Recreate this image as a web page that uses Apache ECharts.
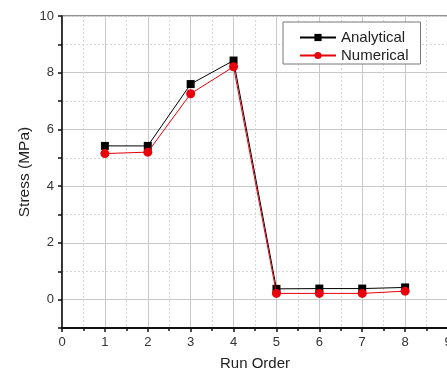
<!DOCTYPE html>
<html><head><meta charset="utf-8">
<script src="https://cdn.jsdelivr.net/npm/echarts@6/dist/echarts.min.js"></script>
<style>html,body{margin:0;padding:0;background:#fff}#c{width:447px;height:373px}</style>
</head><body><div id="c"></div>
<script>
const runOrder = [1, 2, 3, 4, 5, 6, 7, 8];
const analytical = [5.42, 5.42, 7.6, 8.43, 0.38, 0.39, 0.39, 0.43];
const numerical = [5.15, 5.2, 7.26, 8.21, 0.22, 0.22, 0.22, 0.3];
const xTicks = [0, 1, 2, 3, 4, 5, 6, 7, 8, 9];
const yTicks = [0, 2, 4, 6, 8, 10];

const font = '"Liberation Sans", Arial, sans-serif';
const chart = echarts.init(document.getElementById('c'), null, {renderer: 'canvas'});
chart.setOption({
  animation: false,
  backgroundColor: '#fff',
  grid: {left: 62, right: -1, top: 16, bottom: 45, show: true, borderColor: '#222', borderWidth: 1,
    backgroundColor: 'transparent', containLabel: false, outerBoundsMode: 'none'},
  legend: {
    orient: 'vertical', left: 283, top: 22, padding: [8, 12, 1, 16],
    borderColor: '#777', borderWidth: 1, backgroundColor: '#fff',
    itemWidth: 36, itemHeight: 9, itemGap: 3,
    textStyle: {fontFamily: font, fontSize: 15, color: '#222'},
    data: ['Analytical', 'Numerical']
  },
  xAxis: {
    type: 'value', min: xTicks[0], max: xTicks[xTicks.length - 1], interval: 1,
    name: 'Run Order', nameLocation: 'middle', nameGap: 28, nameMoveOverlap: false,
    nameTextStyle: {fontFamily: font, fontSize: 15, color: '#222'},
    axisLine: {show: true, onZero: false, lineStyle: {color: '#111', width: 2}},
    axisTick: {show: true, length: 4, lineStyle: {color: '#111', width: 1.5}},
    minorTick: {show: true, splitNumber: 2, length: 3, lineStyle: {color: '#111', width: 1.5}},
    axisLabel: {fontFamily: font, fontSize: 13, color: '#333', margin: 8},
    splitLine: {show: true, lineStyle: {color: '#c8c8c8', width: 1}},
    minorSplitLine: {show: true, lineStyle: {color: '#d8d8d8', width: 1, type: [2, 2]}}
  },
  yAxis: [{
    type: 'value', min: -1, max: 10, interval: 1,
    name: 'Stress (MPa)', nameLocation: 'middle', nameGap: 37, nameMoveOverlap: false,
    nameTextStyle: {fontFamily: font, fontSize: 15.5, color: '#222', verticalAlign: 'middle'},
    axisLine: {show: true, onZero: false, lineStyle: {color: '#111', width: 1.5}},
    axisTick: {show: true, length: 4, lineStyle: {color: '#111', width: 1.5}},
    axisLabel: {fontFamily: font, fontSize: 13, color: '#333', margin: 8,
      formatter: v => (yTicks.indexOf(v) >= 0 ? String(v) : '')},
    splitLine: {show: true, lineStyle: {color: ['rgba(0,0,0,0)', '#c8c8c8'], width: 1}}
  }, {
    type: 'value', min: -1, max: 10, interval: 2, position: 'left',
    axisLine: {show: false}, axisTick: {show: false}, axisLabel: {show: false},
    splitLine: {show: true, lineStyle: {color: '#d8d8d8', width: 1, type: [2, 2]}}
  }],
  series: [{
    name: 'Analytical', type: 'line', yAxisIndex: 0,
    data: runOrder.map((x, i) => [x, analytical[i]]),
    symbol: 'rect', symbolSize: 8,
    itemStyle: {color: '#000'}, lineStyle: {color: '#000', width: 1}, z: 3
  }, {
    name: 'Numerical', type: 'line', yAxisIndex: 0,
    data: runOrder.map((x, i) => [x, numerical[i]]),
    symbol: 'circle', symbolSize: 9,
    itemStyle: {color: '#e8000b'}, lineStyle: {color: '#e8000b', width: 1}, z: 4
  }]
});
</script></body></html>
